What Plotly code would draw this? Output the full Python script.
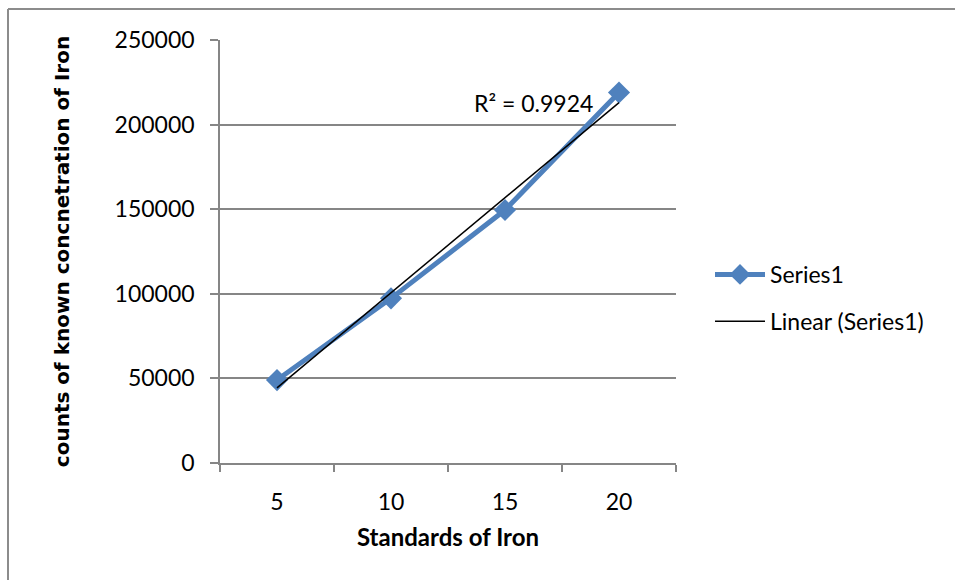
import numpy as np
import plotly.graph_objects as go

categories = ["5", "10", "15", "20"]
counts = [49000, 97300, 149500, 219000]
y_ticks = [0, 50000, 100000, 150000, 200000, 250000]
r2_label = "R² = 0.9924"

# linear trendline (Excel-style, on category index)
idx = np.arange(len(categories))
slope, intercept = np.polyfit(idx, counts, 1)
trend = slope * idx + intercept

BLUE = "#4F81BD"
GRID = "#868686"
FONT = "Lato, Carlito, Calibri, sans-serif"

L, R, T, B = 220, 279, 40, 117
W, H = 955, 580
pw, ph = W - L - R, H - T - B

def px(x):
    return (x - L) / pw

def py(y):
    return (H - B - y) / ph

fig = go.Figure()
fig.add_trace(go.Scatter(
    x=categories, y=counts, mode="lines+markers", name="Series1",
    line=dict(color=BLUE, width=5),
    marker=dict(symbol="diamond", size=17, color=BLUE),
    legendgroup="a",
))
fig.add_trace(go.Scatter(
    x=categories, y=trend, mode="lines", name="Linear (Series1)",
    line=dict(color="black", width=1.5),
    legendgroup="b",
))

fig.add_annotation(
    text=r2_label, xref="paper", yref="paper", x=px(533), y=py(103),
    showarrow=False, font=dict(family=FONT, size=23, color="black"),
    xanchor="center", yanchor="middle",
)

# outer chart border (left and top visible)
fig.add_shape(type="line", xref="paper", yref="paper",
              x0=px(8), y0=py(9), x1=px(8), y1=py(600),
              line=dict(color="#8C8C8C", width=2))
fig.add_shape(type="line", xref="paper", yref="paper",
              x0=px(8), y0=py(9), x1=px(980), y1=py(9),
              line=dict(color="#8C8C8C", width=2))

fig.update_layout(
    width=W, height=H,
    margin=dict(l=L, r=R, t=T, b=B),
    paper_bgcolor="white", plot_bgcolor="white",
    font=dict(family=FONT, size=23, color="black"),
    showlegend=True,
    legend=dict(
        x=px(710), y=py(298), xanchor="left", yanchor="middle",
        font=dict(family=FONT, size=23, color="black"),
        tracegroupgap=14, itemwidth=50, bgcolor="rgba(0,0,0,0)",
    ),
    xaxis=dict(
        type="category", tickson="boundaries", range=[-0.5, 3.5],
        showline=True, linecolor=GRID, linewidth=1.5,
        ticks="outside", ticklen=7, tickcolor=GRID, tickwidth=1.5,
        showgrid=False, zeroline=False,
        tickfont=dict(family=FONT, size=23),
        ticklabelstandoff=18,
        title=dict(text="<b>Standards of Iron</b>",
                   font=dict(family=FONT, size=24), standoff=15),
    ),
    yaxis=dict(
        range=[0, 250000], tickvals=y_ticks,
        showline=True, linecolor=GRID, linewidth=1.5,
        ticks="outside", ticklen=8, tickcolor=GRID, tickwidth=1.5,
        showgrid=True, gridcolor=GRID, gridwidth=1.5, zeroline=False,
        tickfont=dict(family=FONT, size=23),
        ticklabelstandoff=11, tickformat="d",
        title=dict(text="<b>counts of known concnetration of Iron</b>",
                   font=dict(family="DejaVu Sans", size=20), standoff=40),
    ),
)

fig.write_html("out.html")
